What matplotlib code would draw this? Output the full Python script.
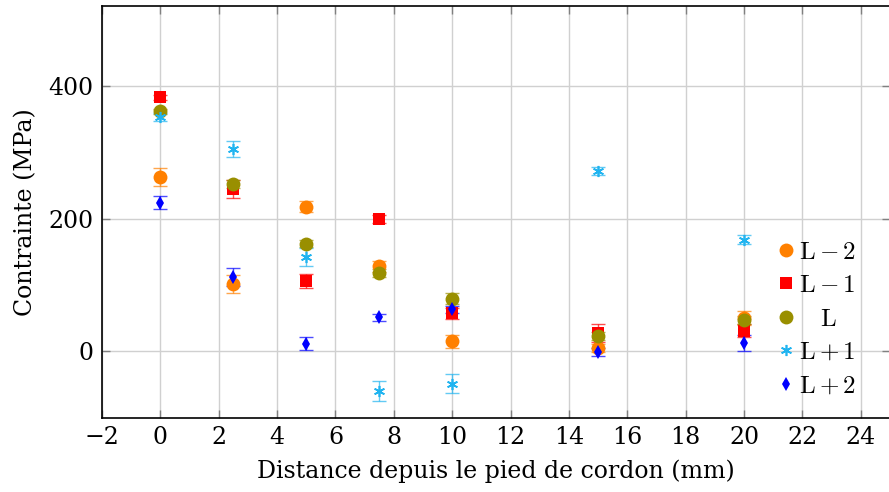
import matplotlib
matplotlib.use("Agg")
import matplotlib.pyplot as plt
import numpy as np

plt.rcParams['mathtext.fontset'] = 'cm'
plt.rcParams['font.family'] = ['DejaVu Serif']

x_pos = [0, 2.5, 5, 7.5, 10, 15, 20]

series_labels = [r'$\mathrm{L}-2$', r'$\mathrm{L}-1$', r'$\ \ \ \mathrm{L}$', r'$\mathrm{L}+1$', r'$\mathrm{L}+2$']

l_m2 = [263, 101, 218, 128, 15, 5, 50]
l_m2_err = [14, 14, 8, 8, 10, 6, 10]
l_m1 = [383, 245, 106, 200, 57, 27, 31]
l_m1_err = [4, 14, 10, 6, 8, 14, 10]
l_0 = [362, 252, 162, 118, 79, 23, 47]
l_0_err = [4, 6, 5, 6, 8, 6, 6]
l_p1 = [353, 305, 142, -60, -49, 272, 168]
l_p1_err = [6, 12, 14, 15, 15, 6, 7]
l_p2 = [224, 112, 11, 51, 63, -1, 12]
l_p2_err = [10, 13, 10, 5, 5, 6, 12]

colors = ['#FF8000', '#FF0000', '#998F00', '#20B4F0', '#0000FF']
markers = ['o', 's', 'o', (6, 2, 0), 'd']
msizes = [10, 8.5, 10, 8, 7.5]

fig = plt.figure(figsize=(8.89, 4.92), dpi=100)
ax = fig.add_axes([102/889, 74/492, 788/889, 412/492])

data = [(l_m2, l_m2_err), (l_m1, l_m1_err), (l_0, l_0_err), (l_p1, l_p1_err), (l_p2, l_p2_err)]
for (vals, errs), c, m, ms, lab in zip(data, colors, markers, msizes, series_labels):
    ax.errorbar(x_pos, vals, yerr=errs, fmt='none', ecolor=c, elinewidth=1.0,
                capsize=5, capthick=1.0, alpha=0.7, zorder=3)
    ax.plot(x_pos, vals, linestyle='none', marker=m, color=c, markersize=ms,
            markeredgewidth=1.2 if m == (6, 2, 0) else 0, label=lab, zorder=4)

ax.set_xlim(-2, 25)
ax.set_ylim(-101, 521)
ax.set_xticks(np.arange(-2, 25, 2))
ax.set_yticks([0, 200, 400])
ax.set_xticklabels([('\u2212' + str(-t)) if t < 0 else str(t) for t in np.arange(-2, 25, 2)])
ax.grid(True, color='#d0d0d0', linewidth=1.0)
ax.set_axisbelow(True)
ax.tick_params(direction='in', length=6, width=1, color='#808080', labelsize=17,
               top=True, right=True, pad=6)
for s in ax.spines.values():
    s.set_linewidth(1.2)
    s.set_color('black')

ax.set_xlabel('Distance depuis le pied de cordon (mm)', fontsize=17, labelpad=7)
ax.set_ylabel('Contrainte (MPa)', fontsize=17, labelpad=8)

leg = ax.legend(loc='center left', bbox_to_anchor=(0.84, 0.24), frameon=False,
                fontsize=18, handletextpad=0.0, handlelength=1.0, labelspacing=0.42,
                borderaxespad=0)

fig.savefig('out.png', dpi=100)
